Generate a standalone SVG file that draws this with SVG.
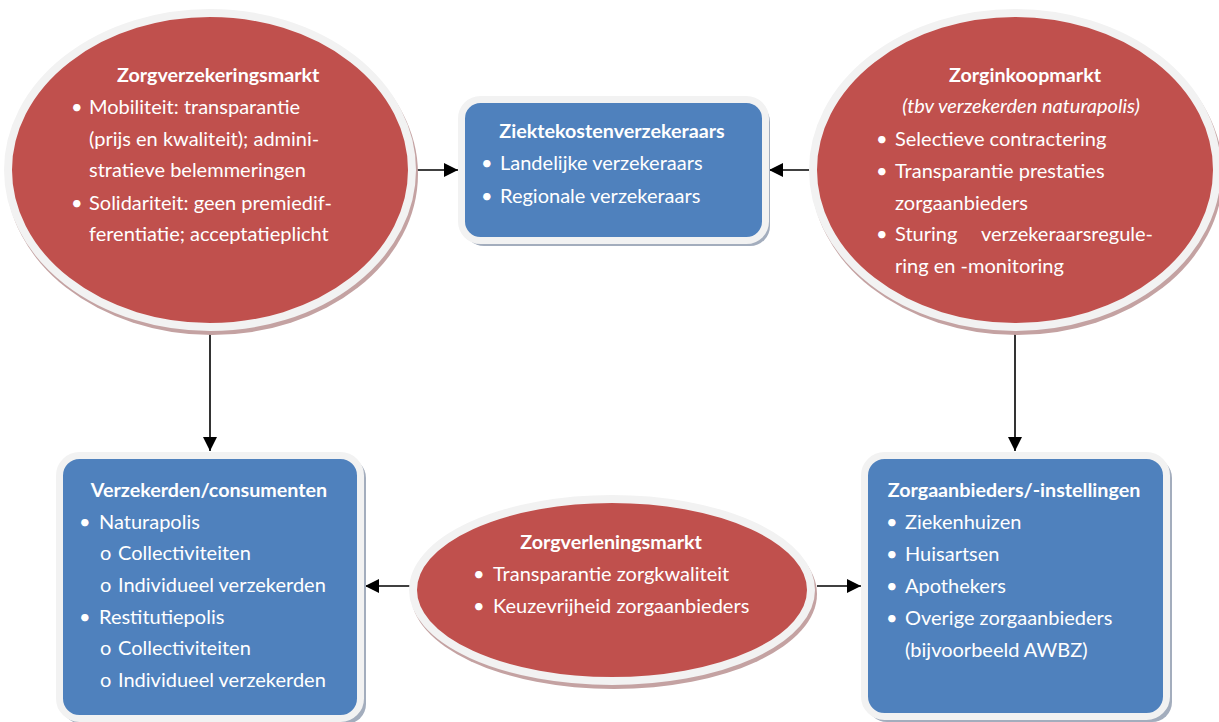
<svg xmlns="http://www.w3.org/2000/svg" width="1219" height="722" viewBox="0 0 1219 722">
<style>
text{font-family:Lato,"Liberation Sans",sans-serif;font-size:20px;fill:#ffffff}
.t{font-weight:bold;font-size:19.7px}
.i{font-style:italic}
.red{fill:#c0504d;stroke:#f2f2f2;stroke-width:8}
.blue{fill:#4f81bd;stroke:#f2f2f2;stroke-width:7}
.rs{fill:#c4a2a2}
.bs{fill:#a3adbd}
.c{stroke:#000;stroke-width:1.6;fill:none;marker-end:url(#ah)}
</style>
<defs>
<marker id="ah" markerUnits="userSpaceOnUse" markerWidth="14" markerHeight="14" refX="14" refY="7" orient="auto">
<path d="M0,0 L14,7 L0,14 z" fill="#000"/>
</marker>
</defs>
<g id="connectors">
<path class="c" d="M415,170 L458,170"/>
<path class="c" d="M810,170 L769,170"/>
<path class="c" d="M210,331 L210,451"/>
<path class="c" d="M1015,331 L1015,451"/>
<path class="c" d="M410,586 L365,586"/>
<path class="c" d="M817,586 L861,586"/>
</g>
<g id="zorgverzekeringsmarkt">
<ellipse class="rs" cx="212" cy="174" rx="206" ry="161"/>
<ellipse class="red" cx="210" cy="170" rx="202" ry="157"/>
<text class="t" x="117" y="82">Zorgverzekeringsmarkt</text>
<text x="71" y="114">•</text><text x="89" y="114">Mobiliteit: transparantie</text>
<text x="89" y="146">(prijs en kwaliteit); admini-</text>
<text x="89" y="177">stratieve belemmeringen</text>
<text x="71" y="210">•</text><text x="89" y="210">Solidariteit: geen premiedif-</text>
<text x="89" y="241">ferentiatie; acceptatieplicht</text>
</g>
<g id="zorginkoopmarkt">
<ellipse class="rs" cx="1017" cy="174" rx="206" ry="161"/>
<ellipse class="red" cx="1015" cy="170" rx="202" ry="157"/>
<text class="t" x="1025" y="82" text-anchor="middle">Zorginkoopmarkt</text>
<text class="i" x="1021" y="113" text-anchor="middle">(tbv verzekerden naturapolis)</text>
<text x="876" y="146">•</text><text x="895" y="146">Selectieve contractering</text>
<text x="876" y="178">•</text><text x="895" y="178">Transparantie prestaties</text>
<text x="895" y="210">zorgaanbieders</text>
<text x="876" y="241">•</text><text x="895" y="241">Sturing</text><text x="1153" y="241" text-anchor="end">verzekeraarsregule-</text>
<text x="895" y="273">ring en -monitoring</text>
</g>
<g id="ziektekostenverzekeraars">
<rect class="bs" x="464" y="102" width="306" height="144" rx="20"/>
<rect class="blue" x="461.5" y="99.5" width="304" height="141" rx="19"/>
<text class="t" x="612" y="138" text-anchor="middle">Ziektekostenverzekeraars</text>
<text x="481" y="170">•</text><text x="500" y="170">Landelijke verzekeraars</text>
<text x="481" y="203">•</text><text x="500" y="203">Regionale verzekeraars</text>
</g>
<g id="verzekerden">
<rect class="bs" x="62" y="458" width="304" height="266" rx="20"/>
<rect class="blue" x="59.5" y="455.5" width="301" height="263" rx="20"/>
<text class="t" x="209" y="497" text-anchor="middle">Verzekerden/consumenten</text>
<text x="79" y="529">•</text><text x="99" y="529">Naturapolis</text>
<text x="100" y="560">o</text><text x="118" y="560">Collectiviteiten</text>
<text x="100" y="592">o</text><text x="118" y="592">Individueel verzekerden</text>
<text x="79" y="624">•</text><text x="99" y="624">Restitutiepolis</text>
<text x="100" y="655">o</text><text x="118" y="655">Collectiviteiten</text>
<text x="100" y="687">o</text><text x="118" y="687">Individueel verzekerden</text>
</g>
<g id="zorgaanbieders">
<rect class="bs" x="867" y="458" width="305" height="264" rx="20"/>
<rect class="blue" x="864.5" y="455.5" width="302" height="261" rx="20"/>
<text class="t" x="1014" y="497" text-anchor="middle">Zorgaanbieders/-instellingen</text>
<text x="886" y="529">•</text><text x="905" y="529">Ziekenhuizen</text>
<text x="886" y="561">•</text><text x="905" y="561">Huisartsen</text>
<text x="886" y="593">•</text><text x="905" y="593">Apothekers</text>
<text x="886" y="625">•</text><text x="905" y="625">Overige zorgaanbieders</text>
<text x="905" y="657">(bijvoorbeeld AWBZ)</text>
</g>
<g id="zorgverleningsmarkt">
<ellipse class="rs" cx="614" cy="594" rx="203" ry="95"/>
<ellipse class="red" cx="612" cy="590" rx="199" ry="91"/>
<text class="t" x="611" y="549" text-anchor="middle">Zorgverleningsmarkt</text>
<text x="473" y="581">•</text><text x="493" y="581">Transparantie zorgkwaliteit</text>
<text x="473" y="613">•</text><text x="493" y="613">Keuzevrijheid zorgaanbieders</text>
</g>
</svg>
